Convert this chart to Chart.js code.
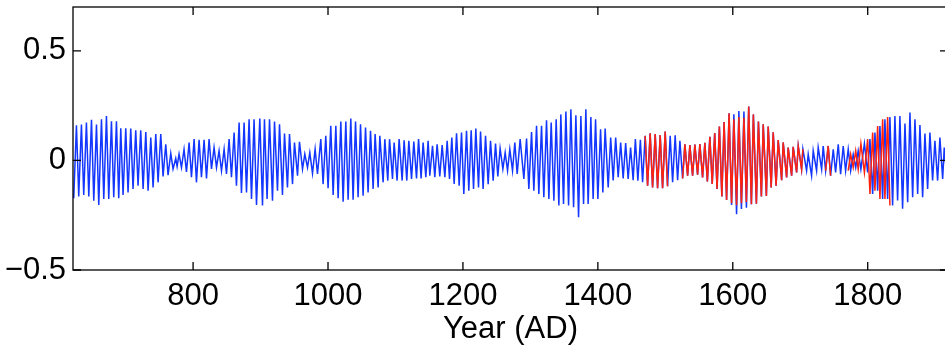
<!DOCTYPE html>
<html>
<head>
<meta charset="utf-8">
<script src="https://cdn.jsdelivr.net/npm/chart.js@4"></script>
<style>
  html, body { margin: 0; padding: 0; background: #fff; overflow: hidden; }
  #chart { display: block; }
</style>
</head>
<body>
<canvas id="chart" width="952" height="348"></canvas>
<script>
// extrema of the filtered series (year, value)
const blueYears = [
  623.1, 627.1, 630.5, 634.5, 637.9, 641.9, 645.4, 649.4, 652.8, 656.8,
  660.2, 664.2, 667.6, 671.6, 675.0, 679.0, 682.4, 686.4, 689.8, 692.8,
  696.2, 700.2, 703.6, 707.6, 711.0, 715.0, 718.4, 722.4, 725.9, 729.9,
  733.3, 737.3, 740.7, 744.7, 748.1, 752.1, 755.5, 759.5, 762.9, 766.9,
  770.3, 774.3, 776.3, 779.2, 782.8, 786.6, 790.2, 794.1, 797.6, 801.5,
  805.0, 808.9, 812.4, 816.3, 819.9, 823.7, 827.3, 831.1, 834.7, 838.5,
  842.1, 846.0, 849.5, 853.4, 856.9, 860.8, 864.3, 868.2, 871.7, 875.6,
  879.2, 883.0, 886.6, 890.4, 894.0, 898.9, 902.9, 905.8, 909.7, 913.3,
  917.7, 920.7, 925.1, 928.1, 932.5, 935.5, 939.9, 942.9, 947.4, 950.3,
  954.8, 957.7, 962.2, 965.6, 969.6, 973.0, 977.0, 980.9, 984.4, 989.3,
  992.7, 996.7, 1000.1, 1004.1, 1007.6, 1011.6, 1015.0, 1019.0, 1022.4, 1026.4,
  1029.8, 1033.8, 1037.2, 1040.8, 1044.6, 1048.2, 1052.0, 1055.6, 1059.4, 1063.0,
  1066.9, 1069.8, 1074.3, 1076.8, 1081.7, 1084.2, 1088.6, 1091.2, 1095.6, 1098.0,
  1102.4, 1105.4, 1109.9, 1112.8, 1116.8, 1119.8, 1123.8, 1127.2, 1131.2, 1134.2,
  1138.0, 1141.0, 1145.0, 1148.4, 1150.9, 1154.9, 1158.3, 1161.7, 1165.7, 1169.2,
  1173.2, 1176.6, 1180.1, 1183.5, 1187.0, 1190.5, 1194.4, 1197.9, 1201.3, 1205.3,
  1208.7, 1212.2, 1215.7, 1219.1, 1223.1, 1226.1, 1229.9, 1233.5, 1237.4, 1240.9,
  1244.8, 1248.3, 1251.7, 1255.1, 1259.2, 1262.6, 1266.1, 1269.5, 1273.5, 1276.9,
  1280.4, 1284.8, 1290.3, 1294.3, 1297.7, 1301.7, 1305.1, 1309.1, 1312.5, 1316.5,
  1319.9, 1323.9, 1327.4, 1330.8, 1334.8, 1338.2, 1342.2, 1345.1, 1349.1, 1352.6,
  1356.6, 1360.0, 1364.0, 1367.4, 1371.4, 1374.8, 1378.8, 1382.2, 1385.6, 1389.6,
  1393.0, 1396.6, 1400.0, 1404.0, 1407.4, 1410.8, 1415.3, 1419.0, 1422.7, 1426.4,
  1430.1, 1433.8, 1437.5, 1441.2, 1444.9, 1448.5, 1452.3, 1455.6, 1459.3, 1463.0,
  1466.3, 1470.1, 1473.7, 1477.5, 1481.1, 1485.0, 1488.5, 1492.4, 1495.9, 1499.8,
  1503.3, 1507.2, 1510.8, 1514.6, 1518.2, 1521.6, 1525.6, 1529.0, 1533.0, 1536.4,
  1540.4, 1543.8, 1547.8, 1551.2, 1555.2, 1558.6, 1562.3, 1566.0, 1569.5, 1573.2,
  1576.7, 1580.1, 1583.8, 1587.1, 1590.8, 1594.5, 1598.2, 1601.6, 1605.6, 1609.0,
  1612.8, 1616.5, 1620.2, 1623.6, 1627.6, 1630.5, 1635.0, 1638.0, 1642.4, 1645.1,
  1649.8, 1652.5, 1656.9, 1659.9, 1664.2, 1667.3, 1672.4, 1674.7, 1679.8, 1682.1,
  1687.2, 1689.5, 1694.6, 1697.0, 1702.0, 1703.9, 1709.4, 1711.8, 1716.8, 1719.2,
  1724.2, 1726.6, 1731.7, 1734.0, 1737.6, 1741.4, 1745.0, 1748.9, 1752.4, 1756.3,
  1759.8, 1763.7, 1767.2, 1771.1, 1774.7, 1778.5, 1782.2, 1785.9, 1789.9, 1795.1,
  1799.9, 1803.3, 1807.3, 1810.7, 1814.7, 1818.1, 1822.1, 1825.5, 1829.5, 1832.9,
  1836.9, 1840.3, 1844.3, 1847.7, 1851.7, 1855.2, 1859.2, 1862.6, 1866.6, 1870.0,
  1874.0, 1877.4, 1881.4, 1884.8, 1888.8, 1892.2, 1896.2, 1899.6, 1903.6, 1907.0,
  1911.1, 1913.4, 1917.4
];
const blueValues = [
  -0.173, 0.160, -0.164, 0.164, -0.158, 0.173, -0.164, 0.185, -0.184, 0.164,
  -0.203, 0.188, -0.176, 0.203, -0.176, 0.179, -0.168, 0.179, -0.173, 0.147,
  -0.158, 0.147, -0.146, 0.145, -0.130, 0.137, -0.115, 0.137, -0.130, 0.130,
  -0.138, 0.104, -0.123, 0.120, -0.100, 0.120, -0.073, 0.074, -0.067, 0.032,
  -0.039, 0.009, -0.027, 0.029, -0.032, 0.051, -0.052, 0.082, -0.077, 0.097,
  -0.100, 0.094, -0.077, 0.094, -0.082, 0.097, -0.039, 0.059, -0.032, 0.044,
  -0.047, 0.051, -0.062, 0.097, -0.077, 0.127, -0.115, 0.173, -0.149, 0.173,
  -0.146, 0.188, -0.176, 0.188, -0.203, 0.191, -0.206, 0.188, -0.176, 0.188,
  -0.184, 0.177, -0.138, 0.165, -0.158, 0.123, -0.123, 0.120, -0.108, 0.082,
  -0.070, 0.085, -0.039, 0.029, -0.032, 0.036, -0.059, 0.051, -0.062, 0.097,
  -0.108, 0.112, -0.127, 0.158, -0.158, 0.158, -0.173, 0.177, -0.188, 0.177,
  -0.179, 0.191, -0.179, 0.177, -0.168, 0.165, -0.161, 0.150, -0.146, 0.135,
  -0.130, 0.120, -0.123, 0.112, -0.100, 0.097, -0.092, 0.097, -0.085, 0.082,
  -0.092, 0.097, -0.092, 0.092, -0.092, 0.089, -0.085, 0.086, -0.082, 0.097,
  -0.082, 0.082, -0.077, 0.089, -0.070, 0.067, -0.077, 0.074, -0.073, 0.070,
  -0.077, 0.089, -0.085, 0.104, -0.108, 0.124, -0.115, 0.127, -0.153, 0.135,
  -0.138, 0.138, -0.130, 0.145, -0.123, 0.132, -0.130, 0.112, -0.108, 0.089,
  -0.092, 0.077, -0.073, 0.055, -0.039, 0.036, -0.047, 0.051, -0.047, 0.082,
  -0.062, 0.097, -0.085, 0.100, -0.130, 0.130, -0.138, 0.158, -0.153, 0.158,
  -0.168, 0.183, -0.176, 0.173, -0.184, 0.188, -0.206, 0.210, -0.199, 0.223,
  -0.206, 0.233, -0.214, 0.206, -0.259, 0.203, -0.199, 0.233, -0.199, 0.198,
  -0.176, 0.188, -0.176, 0.142, -0.146, 0.145, -0.123, 0.104, -0.092, 0.104,
  -0.077, 0.082, -0.082, 0.079, -0.085, 0.059, -0.090, 0.097, -0.093, 0.094,
  -0.100, 0.112, -0.115, 0.124, -0.123, 0.120, -0.127, 0.116, -0.127, 0.132,
  -0.118, 0.112, -0.100, 0.115, -0.090, 0.089, -0.082, 0.074, -0.070, 0.070,
  -0.070, 0.072, -0.065, 0.075, -0.078, 0.080, -0.096, 0.108, -0.108, 0.125,
  -0.130, 0.155, -0.164, 0.175, -0.180, 0.215, -0.203, 0.210, -0.246, 0.225,
  -0.222, 0.223, -0.216, 0.246, -0.200, 0.210, -0.198, 0.177, -0.165, 0.165,
  -0.162, 0.155, -0.123, 0.128, -0.115, 0.093, -0.090, 0.082, -0.078, 0.059,
  -0.070, 0.062, -0.055, 0.066, -0.040, 0.051, -0.047, 0.028, -0.070, 0.044,
  -0.047, 0.059, -0.040, 0.066, -0.047, 0.066, -0.070, 0.051, -0.055, 0.074,
  -0.063, 0.066, -0.047, 0.051, -0.047, 0.028, -0.032, 0.044, -0.040, 0.077,
  -0.055, 0.097, -0.153, 0.127, -0.138, 0.157, -0.176, 0.188, -0.176, 0.198,
  -0.206, 0.203, -0.183, 0.203, -0.221, 0.168, -0.191, 0.218, -0.168, 0.188,
  -0.153, 0.162, -0.168, 0.123, -0.130, 0.127, -0.092, 0.089, -0.092, 0.104,
  -0.085, 0.059, -0.080
];

// second (red) reconstruction, only where it is plotted; null = gap
const redYears = [
  1470.1, 1473.7, 1477.5, 1481.1, 1485.0, 1488.5, 1492.4, 1495.9, 1499.8, 1503.3,
  1515.0,
  1525.6, 1529.0, 1533.0, 1536.4, 1540.4, 1543.8, 1547.8, 1551.2, 1555.2, 1558.6,
  1562.3, 1566.0, 1569.5, 1573.2, 1576.7, 1580.1, 1583.8, 1587.1, 1590.8, 1594.5,
  1598.2, 1601.6, 1605.6, 1609.0, 1612.8, 1616.5, 1620.2, 1623.6, 1627.6, 1630.5,
  1635.0, 1638.0, 1642.4, 1645.1, 1649.8, 1652.5, 1656.9, 1659.9, 1664.2, 1667.3,
  1672.4, 1674.7, 1679.8, 1682.1, 1687.2, 1689.5, 1694.6, 1697.0, 1702.0, 1703.9,
  1720.0,
  1737.6, 1741.4, 1745.0,
  1760.0,
  1771.1, 1774.7, 1778.5, 1782.2, 1785.9, 1789.9, 1795.1, 1799.9, 1803.3, 1807.3,
  1810.7, 1814.7, 1818.1, 1822.1, 1825.5, 1829.5, 1832.9, 1836.9
];
const redValues = [
  0.112, -0.115, 0.124, -0.123, 0.120, -0.127, 0.116, -0.127, 0.132, -0.118,
  null,
  -0.082, 0.074, -0.070, 0.070, -0.070, 0.072, -0.065, 0.075, -0.078, 0.080,
  -0.096, 0.108, -0.108, 0.125, -0.130, 0.155, -0.164, 0.175, -0.180, 0.215,
  -0.195, 0.188, -0.205, 0.198, -0.195, 0.195, -0.190, 0.246, -0.200, 0.210,
  -0.198, 0.177, -0.165, 0.165, -0.162, 0.155, -0.123, 0.128, -0.115, 0.093,
  -0.090, 0.082, -0.078, 0.059, -0.070, 0.062, -0.055, 0.066, -0.040, 0.051,
  null,
  -0.047, 0.066, -0.070,
  null,
  -0.047, 0.028, -0.032, 0.044, -0.040, 0.077, -0.055, 0.097, -0.153, 0.127,
  -0.138, 0.157, -0.176, 0.188, -0.176, 0.198, -0.206
];

const xTicks = [800, 1000, 1200, 1400, 1600, 1800];
const yTicks = [-0.5, 0, 0.5];

const toPoints = (xs, ys) => xs.map((x, i) => ({ x: x, y: ys[i] }));

// MATLAB style box with inward tick marks on all four sides
const boxAxes = {
  id: 'boxAxes',
  afterDraw(chart) {
    const { ctx, chartArea: a, scales } = chart;
    const len = 8;
    ctx.save();
    ctx.strokeStyle = '#000';
    ctx.lineWidth = 1.3;
    ctx.strokeRect(a.left, a.top, a.right - a.left, a.bottom - a.top);
    ctx.beginPath();
    xTicks.forEach(v => {
      const px = scales.x.getPixelForValue(v);
      ctx.moveTo(px, a.bottom); ctx.lineTo(px, a.bottom - len);
      ctx.moveTo(px, a.top); ctx.lineTo(px, a.top + len);
    });
    yTicks.forEach(v => {
      const py = scales.y.getPixelForValue(v);
      ctx.moveTo(a.left, py); ctx.lineTo(a.left + len, py);
      ctx.moveTo(a.right, py); ctx.lineTo(a.right - len, py);
    });
    ctx.stroke();
    ctx.restore();
  }
};

Chart.defaults.font.family = '"Liberation Sans", Arial, sans-serif';
Chart.defaults.font.size = 31;
Chart.defaults.color = '#000';

new Chart(document.getElementById('chart').getContext('2d'), {
  type: 'scatter',
  data: {
    datasets: [
      {
        data: toPoints(blueYears, blueValues),
        showLine: true,
        borderColor: 'rgb(20,55,255)',
        borderWidth: 1.5,
        pointRadius: 0,
        tension: 0,
        order: 2
      },
      {
        data: toPoints(redYears, redValues),
        showLine: true,
        spanGaps: false,
        borderColor: 'rgb(255,35,15)',
        borderWidth: 1.5,
        pointRadius: 0,
        tension: 0,
        order: 1
      }
    ]
  },
  options: {
    responsive: false,
    animation: false,
    layout: { padding: { top: 7, right: 4, left: 0, bottom: 0 } },
    plugins: { legend: { display: false }, tooltip: { enabled: false } },
    scales: {
      x: {
        type: 'linear',
        min: 622,
        max: 1919,
        afterFit: s => { s.height = 78; s.paddingLeft = 0; s.paddingRight = 0; },
        afterBuildTicks: s => { s.ticks = xTicks.map(v => ({ value: v })); },
        grid: { display: false, drawTicks: false },
        border: { display: false },
        ticks: { padding: 8, callback: v => String(v) },
        title: { display: true, text: 'Year (AD)', padding: { top: 0, bottom: 0 } }
      },
      y: {
        min: -0.5,
        max: 0.7,
        afterFit: s => { s.width = 73; s.paddingTop = 0; s.paddingBottom = 0; },
        afterBuildTicks: s => { s.ticks = yTicks.map(v => ({ value: v })); },
        grid: { display: false, drawTicks: false },
        border: { display: false },
        ticks: { padding: 7, callback: v => (v < 0 ? '\u2212' + Math.abs(v) : String(v)) }
      }
    }
  },
  plugins: [boxAxes]
});
</script>
</body>
</html>
